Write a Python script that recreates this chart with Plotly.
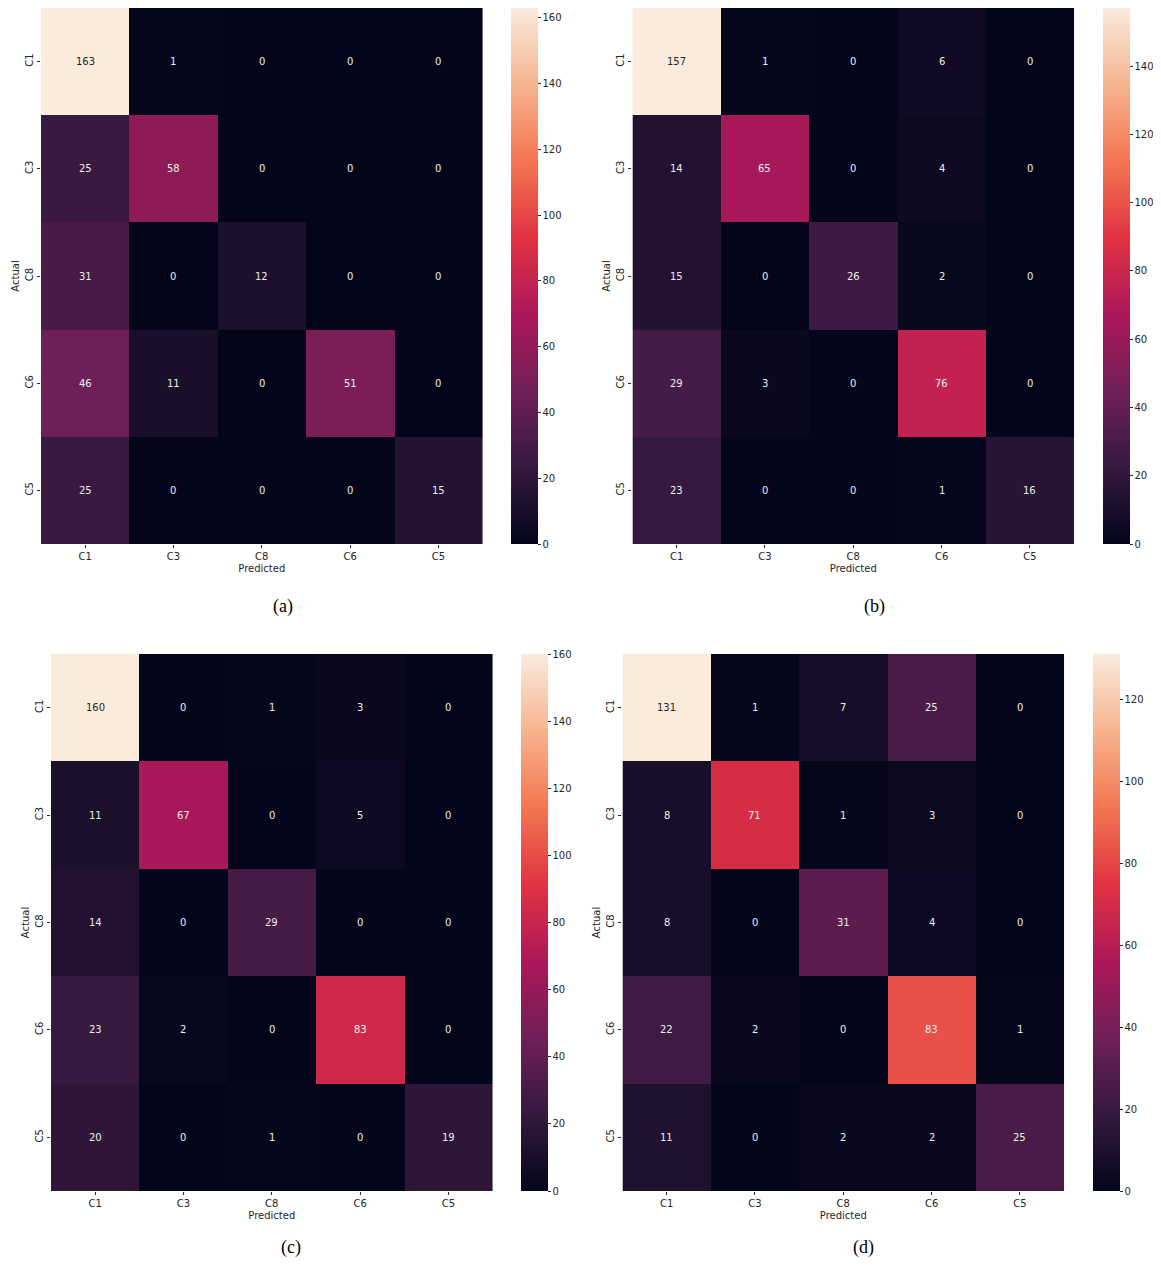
import plotly.graph_objects as go

OFF = 8  # page body margin
W, H = 1161 - 2 * OFF, 1267 - 2 * OFF

labels = ["C1", "C3", "C8", "C6", "C5"]

cm_a = [[163, 1, 0, 0, 0],
        [25, 58, 0, 0, 0],
        [31, 0, 12, 0, 0],
        [46, 11, 0, 51, 0],
        [25, 0, 0, 0, 15]]
cm_b = [[157, 1, 0, 6, 0],
        [14, 65, 0, 4, 0],
        [15, 0, 26, 2, 0],
        [29, 3, 0, 76, 0],
        [23, 0, 0, 1, 16]]
cm_c = [[160, 0, 1, 3, 0],
        [11, 67, 0, 5, 0],
        [14, 0, 29, 0, 0],
        [23, 2, 0, 83, 0],
        [20, 0, 1, 0, 19]]
cm_d = [[131, 1, 7, 25, 0],
        [8, 71, 1, 3, 0],
        [8, 0, 31, 4, 0],
        [22, 2, 0, 83, 1],
        [11, 0, 2, 2, 25]]
captions = ["(a)", "(b)", "(c)", "(d)"]

rocket = [
    [0.0, "#03051a"],
    [0.143, "#35193e"],
    [0.286, "#701f57"],
    [0.429, "#ad1759"],
    [0.571, "#e13342"],
    [0.714, "#f37651"],
    [0.857, "#f6b48f"],
    [1.0, "#faebdd"],
]

# pixel layout in window coords: (heatmap x0, x1, y0, y1, colorbar x0, caption x, caption y)
geo = [
    (41, 483, 8, 544, 511, 283, 606),
    (633, 1075, 8, 544, 1103, 875, 606),
    (51, 493, 654, 1191, 521, 291, 1253),
    (623, 1065, 654, 1191, 1093, 864, 1253),
]

FONT = "DejaVu Sans"
TXT = "#262626"


def px(x):
    return min(1.0, max(0.0, (x - OFF) / W))


def py(y):
    return min(1.0, max(0.0, 1 - (y - OFF) / H))


fig = go.Figure()
layout = dict(width=W, height=H, margin=dict(l=0, r=0, t=0, b=0),
              paper_bgcolor="white", plot_bgcolor="white", showlegend=False)
annotations = []

for i, (cm, g) in enumerate(zip([cm_a, cm_b, cm_c, cm_d], geo)):
    hx0, hx1, hy0, hy1, cbx, capx, capy = g
    n = str(i + 1) if i > 0 else ""
    xa, ya = "x" + n, "y" + n
    zmax = max(max(r) for r in cm)
    fig.add_trace(go.Heatmap(
        z=cm, x=labels, y=labels, xaxis=xa, yaxis=ya,
        colorscale=rocket, zmin=0, zmax=zmax, hoverinfo="skip",
        colorbar=dict(
            x=px(cbx), xanchor="left", y=py(hy0), yanchor="top",
            len=(hy1 - hy0) / H, lenmode="fraction", thickness=27,
            thicknessmode="pixels", xpad=0, ypad=0, outlinewidth=0,
            tick0=0, dtick=20, ticks="outside", ticklen=3, tickwidth=1,
            tickcolor=TXT, tickfont=dict(family=FONT, size=10, color=TXT),
        ),
    ))
    layout["xaxis" + n] = dict(
        domain=[px(hx0), px(hx1)], anchor=ya, type="category",
        categoryorder="array", categoryarray=labels,
        ticks="outside", ticklen=3, tickcolor=TXT, showgrid=False,
        zeroline=False, showline=False,
        tickfont=dict(family=FONT, size=10, color=TXT),
        title=dict(text="Predicted", font=dict(family=FONT, size=10, color=TXT), standoff=3),
    )
    layout["yaxis" + n] = dict(
        domain=[py(hy1), py(hy0)], anchor=xa, type="category",
        categoryorder="array", categoryarray=labels, autorange="reversed",
        ticks="outside", ticklen=3, tickcolor=TXT, showgrid=False,
        zeroline=False, showline=False, tickangle=-90,
        tickfont=dict(family=FONT, size=10, color=TXT),
        title=dict(text="Actual", font=dict(family=FONT, size=10, color=TXT), standoff=2),
    )
    for r, row in enumerate(cm):
        for c, v in enumerate(row):
            col = TXT if v / zmax > 0.75 else "#eeeeee"
            annotations.append(dict(
                x=labels[c], y=labels[r], xref=xa, yref=ya, text=str(v),
                showarrow=False, font=dict(family=FONT, size=10, color=col)))
    if i < 2:
        cap = dict(y=py(capy), yanchor="middle")
    else:
        cap = dict(y=0, yanchor="bottom", borderpad=0)
    annotations.append(dict(
        x=px(capx), xref="paper", yref="paper",
        text=captions[i], showarrow=False, xanchor="center",
        font=dict(family="Liberation Serif", size=18, color="black"), **cap))

layout["annotations"] = annotations
fig.update_layout(**layout)
fig.write_html("out.html")
